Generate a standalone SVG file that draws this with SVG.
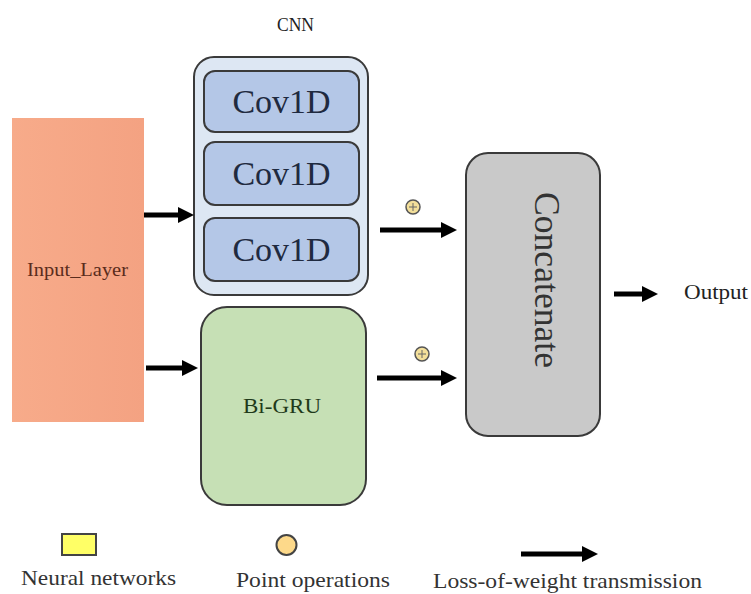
<svg xmlns="http://www.w3.org/2000/svg" width="751" height="594" viewBox="0 0 751 594">
  <style>
    text { font-family: "Liberation Serif", "Times New Roman", serif; }
    .frame { stroke: #3a3a3a; stroke-width: 2; }
    .conv { fill: #b4c7e7; stroke: #3a3a3a; stroke-width: 2; }
    .conv-label { font-size: 34px; fill: #1f2a40; text-anchor: middle; }
    .legend-label { font-size: 22px; fill: #333; }
    .link { stroke: #000; stroke-width: 5; fill: none; }
    .op { fill: #f3df9a; stroke: #555; stroke-width: 1.5; }
  </style>
  <defs>
    <marker id="head" markerUnits="userSpaceOnUse" markerWidth="18" markerHeight="18" refX="2" refY="9" orient="auto">
      <path d="M0,1 L16,9 L0,17 Z" fill="#000"/>
    </marker>
    <linearGradient id="inputFill" x1="0" y1="0" x2="1" y2="0">
      <stop offset="0" stop-color="#f7ab8a"/>
      <stop offset="1" stop-color="#f4a282"/>
    </linearGradient>
  </defs>
  <rect width="751" height="594" fill="#ffffff"/>

  <g id="input-layer">
    <rect x="12" y="118" width="132" height="304" fill="url(#inputFill)"/>
    <text x="27" y="276" font-size="19" fill="#5a2c1c" textLength="101" lengthAdjust="spacingAndGlyphs">Input_Layer</text>
  </g>

  <g id="cnn">
    <text x="277" y="31" font-size="18" fill="#222" textLength="37" lengthAdjust="spacingAndGlyphs">CNN</text>
    <rect x="194" y="57" width="174" height="238" rx="20" fill="#dde7f3" class="frame"/>
    <g id="conv1">
      <rect x="204" y="71" width="155" height="61" rx="11" class="conv"/>
      <text x="281.5" y="113" class="conv-label">Cov1D</text>
    </g>
    <g id="conv2">
      <rect x="204" y="142" width="155" height="63" rx="11" class="conv"/>
      <text x="281.5" y="185" class="conv-label">Cov1D</text>
    </g>
    <g id="conv3">
      <rect x="204" y="218" width="155" height="63" rx="11" class="conv"/>
      <text x="281.5" y="261" class="conv-label">Cov1D</text>
    </g>
  </g>

  <g id="bi-gru">
    <rect x="201" y="307" width="165" height="198" rx="26" fill="#c6e0b5" class="frame"/>
    <text x="243" y="413" font-size="22" fill="#1f3a1a" textLength="78" lengthAdjust="spacingAndGlyphs">Bi-GRU</text>
  </g>

  <g id="concatenate">
    <rect x="466" y="153" width="134" height="283" rx="22" fill="#c9c9c9" class="frame"/>
    <text transform="translate(535,192) rotate(90)" font-size="35" fill="#333" textLength="176" lengthAdjust="spacingAndGlyphs">Concatenate</text>
  </g>

  <g id="output">
    <text x="684" y="299" font-size="20" fill="#222" textLength="64" lengthAdjust="spacingAndGlyphs">Output</text>
  </g>

  <g id="connectors">
    <line x1="144" y1="215" x2="180" y2="215" class="link" marker-end="url(#head)"/>
    <line x1="146" y1="368" x2="184" y2="368" class="link" marker-end="url(#head)"/>
    <line x1="380" y1="230" x2="443" y2="230" class="link" marker-end="url(#head)"/>
    <line x1="377" y1="378" x2="443" y2="378" class="link" marker-end="url(#head)"/>
    <line x1="614" y1="294" x2="644" y2="294" class="link" marker-end="url(#head)"/>
    <g id="sum-top">
      <circle cx="413" cy="207" r="7" class="op"/>
      <path d="M409,207 H417 M413,203 V211" stroke="#666" stroke-width="1"/>
    </g>
    <g id="sum-bottom">
      <circle cx="422" cy="354" r="7" class="op"/>
      <path d="M418,354 H426 M422,350 V358" stroke="#666" stroke-width="1"/>
    </g>
  </g>

  <g id="legend">
    <rect x="62" y="534" width="34" height="21" fill="#ffff66" stroke="#444" stroke-width="2"/>
    <text x="21" y="585" class="legend-label" textLength="155" lengthAdjust="spacingAndGlyphs">Neural networks</text>
    <circle cx="286.5" cy="545" r="10" fill="#fdd98a" stroke="#444" stroke-width="2"/>
    <text x="236" y="587" class="legend-label" textLength="154" lengthAdjust="spacingAndGlyphs">Point operations</text>
    <line x1="521" y1="554" x2="584" y2="554" class="link" marker-end="url(#head)"/>
    <text x="433" y="588" class="legend-label" textLength="269" lengthAdjust="spacingAndGlyphs">Loss-of-weight transmission</text>
  </g>
</svg>
